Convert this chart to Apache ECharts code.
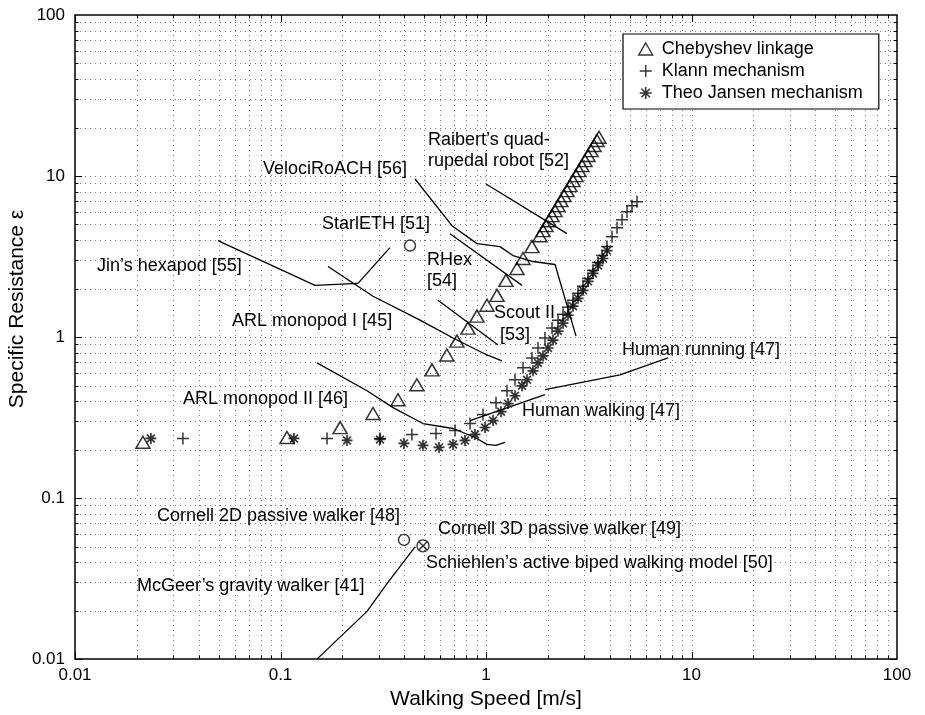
<!DOCTYPE html>
<html><head><meta charset="utf-8">
<script src="https://cdn.jsdelivr.net/npm/echarts@6/dist/echarts.min.js"></script>
<style>html,body{margin:0;padding:0;background:#fff}#c{width:925px;height:715px}</style>
</head><body><div id="c"></div>
<script>
// ---------- data ----------
const xTickLabels = ['0.01', '0.1', '1', '10', '100'];
const yTickLabels = ['0.01', '0.1', '1', '10', '100'];

const chebyshev = [[0.0214,0.222],[0.1075,0.238],[0.195,0.274],[0.282,0.335],[0.373,0.408],[0.461,0.506],
  [0.546,0.625],[0.645,0.774],[0.722,0.944],[0.817,1.137],[0.904,1.348],[1.011,1.576],[1.131,1.816],
  [1.251,2.248],[1.415,2.667],[1.514,3.075],[1.674,3.645],[1.83,4.26],[1.894,4.58],[1.959,4.92],
  [2.026,5.28],[2.096,5.68],[2.167,6.10],[2.241,6.55],[2.317,7.04],[2.397,7.56],[2.479,8.12],
  [2.563,8.72],[2.651,9.37],[2.742,10.06],[2.835,10.81],[2.932,11.61],[3.032,12.47],[3.136,13.40],
  [3.243,14.39],[3.354,15.46],[3.468,16.61],[3.547,17.41]];

const klann = [[0.0335,0.2346],[0.1684,0.2346],[0.305,0.2346],[0.436,0.2484],[0.571,0.252],[0.707,0.263],
  [0.836,0.290],[0.967,0.330],[1.119,0.391],[1.265,0.464],[1.384,0.543],[1.514,0.644],[1.674,0.742],
  [1.791,0.855],[1.937,0.986],[2.096,1.137],[2.241,1.273],[2.370,1.387],[2.506,1.532],[2.651,1.692],
  [2.804,1.869],[2.965,2.064],[3.136,2.313],[3.316,2.592],[3.508,2.904],[3.668,3.208],[3.880,3.645],
  [4.104,4.203],[4.341,4.775],[4.590,5.35],[4.855,5.99],[5.133,6.53],[5.43,6.91]];

const jansen = [[0.0234,0.2346],[0.1163,0.2346],[0.2107,0.228],[0.305,0.2313],[0.399,0.2186],[0.4936,0.2125],
  [0.5906,0.2064],[0.691,0.2154],[0.790,0.228],[0.884,0.2484],[0.989,0.2744],[1.082,0.303],[1.183,0.344],
  [1.280,0.386],[1.384,0.432],[1.497,0.498],[1.583,0.543],[1.693,0.617],[1.791,0.691],[1.894,0.763],
  [2.003,0.855],[2.118,0.958],[2.241,1.089],[2.370,1.220],[2.506,1.367],[2.651,1.554],[2.804,1.741],
  [2.965,1.950],[3.136,2.217],[3.316,2.484],[3.508,2.783],[3.709,3.075],[3.880,3.443]];

const jinHexapod = [[0.0496,3.97],[0.1472,2.094],[0.2383,2.154]];
const starlethLeader = [[0.2383,2.154],[0.341,3.594]];
const velociroach = [[0.4515,9.58],[0.683,4.914],[0.904,3.804],[1.170,3.645],[1.353,3.208],[1.693,2.945],[2.167,2.822],[2.742,1.014]];
const raibert = [[1.0,8.93],[2.479,4.385]];
const rhex = [[0.668,4.385],[1.497,2.094]];
const scoutII = [[0.584,1.692],[1.144,0.892]];
const arlMonopod1 = [[0.1703,2.744],[0.2819,1.791],[0.4775,1.273],[0.691,0.986],[1.011,0.774],[1.196,0.711]];
const arlMonopod2 = [[0.1505,0.691],[0.2636,0.464],[0.3527,0.3645],[0.4936,0.2904],[0.691,0.2704],[0.884,0.2379],[1.011,0.2154],[1.119,0.2125],[1.237,0.2217]];
const humanWalking = [[0.836,0.303],[1.937,0.4385]];
const humanRunning = [[1.937,0.471],[4.489,0.5825],[7.686,0.742]];
const mcgeer = [[0.1505,0.01],[0.2636,0.01978],[0.3298,0.02945],[0.4515,0.0498]];

const starlethPoint = [[0.4267,3.70]];
const cornell2D = [[0.399,0.055]];
const cornell3D = [[0.4936,0.0505]];

// annotation texts with anchor (data coords of left-middle of text)
const annotations = [
  ['VelociRoACH [56]', [0.0822,11.05]],
  ['Raibert\u2019s quad-\nrupedal robot [52]', [0.5222,14.47]],
  ['StarlETH [51]', [0.1592,5.055]],
  ['RHex\n[54]', [0.5163,2.592]],
  ['Jin\u2019s hexapod [55]', [0.0128,2.744]],
  ['ARL monopod I [45]', [0.0581,1.255]],
  ['Scout II', [1.094,1.406]],
  ['[53]', [1.170,1.029]],
  ['Human running [47]', [4.590,0.8315]],
  ['ARL monopod II [46]', [0.0335,0.4143]],
  ['Human walking [47]', [1.497,0.3493]],
  ['Cornell 2D passive walker [48]', [0.02506,0.0774]],
  ['Cornell 3D passive walker [49]', [0.584,0.0644]],
  ['Schiehlen\u2019s active biped walking model [50]', [0.5105,0.0397]],
  ['McGeer\u2019s gravity walker [41]', [0.02003,0.02862]]
];

// ---------- styling ----------
const FONT = 'Liberation Sans, Arial, Helvetica, sans-serif';
const PLUS = 'path://M0,6H12M6,0V12';
const STAR = 'path://M6,0V12M0,6H12M1.76,1.76L10.24,10.24M1.76,10.24L10.24,1.76';
const CIRCLE_X = 'path://M12,6A6,6,0,1,1,0,6A6,6,0,1,1,12,6ZM2.2,2.2L9.8,9.8M2.2,9.8L9.8,2.2';
const hollow = {color: 'rgba(0,0,0,0)', borderColor: '#000', borderWidth: 1.4};

const decadeBases = [0.01, 0.1, 1, 10];
function gridRender(params, api) {
  const p0 = api.coord([0.01, 0.01]);
  const p1 = api.coord([100, 100]);
  const L = p0[0], B = p0[1], R = p1[0], T = p1[1];
  const kids = [];
  const dot = {stroke: '#777', lineWidth: 1, lineDash: [1, 4]};
  const tk = {stroke: '#000', lineWidth: 1};
  decadeBases.forEach(b => {
    for (let m = 1; m <= 9; m++) {
      const v = b * m;
      const major = m === 1;
      const len = major ? 7 : 3.5;
      const x = Math.round(api.coord([v, 1])[0]) + 0.5;
      const y = Math.round(api.coord([1, v])[1]) + 0.5;
      if (!(b === 0.01 && m === 1)) {
        kids.push({type: 'line', shape: {x1: x, y1: T, x2: x, y2: B}, style: dot, silent: true});
        kids.push({type: 'line', shape: {x1: L, y1: y, x2: R, y2: y}, style: dot, silent: true});
      }
      kids.push({type: 'line', shape: {x1: x, y1: B, x2: x, y2: B - len}, style: tk, silent: true});
      kids.push({type: 'line', shape: {x1: x, y1: T, x2: x, y2: T + len}, style: tk, silent: true});
      kids.push({type: 'line', shape: {x1: L, y1: y, x2: L + len, y2: y}, style: tk, silent: true});
      kids.push({type: 'line', shape: {x1: R, y1: y, x2: R - len, y2: y}, style: tk, silent: true});
    }
  });
  return {type: 'group', children: kids};
}

function lineSeries(name, data) {
  return {name: name, type: 'line', data: data, showSymbol: false, symbol: 'none', z: 3,
    lineStyle: {color: '#000', width: 1.3}, itemStyle: {color: '#000'}, silent: true};
}

const chart = echarts.init(document.getElementById('c'), null, {renderer: 'canvas'});
chart.setOption({
  animation: false,
  backgroundColor: '#fff',
  grid: {left: 75, right: 28, top: 15, bottom: 52, show: true, borderColor: '#000', borderWidth: 1.5, backgroundColor: 'rgba(0,0,0,0)'},
  xAxis: {
    type: 'log', logBase: 10, min: 0.01, max: 100,
    name: 'Walking Speed [m/s]', nameLocation: 'middle', nameGap: 27,
    nameTextStyle: {fontSize: 21, fontFamily: FONT, color: '#000'},
    axisLine: {show: false}, axisTick: {show: false}, splitLine: {show: false},
    axisLabel: {fontSize: 17, fontFamily: FONT, color: '#000', margin: 8,
      formatter: v => xTickLabels[Math.round(Math.log10(v)) + 2]}
  },
  yAxis: {
    type: 'log', logBase: 10, min: 0.01, max: 100,
    axisLine: {show: false}, axisTick: {show: false}, splitLine: {show: false},
    axisLabel: {fontSize: 17, fontFamily: FONT, color: '#000', margin: 10,
      formatter: v => yTickLabels[Math.round(Math.log10(v)) + 2]}
  },
  graphic: [{
    type: 'text', x: 17, y: 309, rotation: Math.PI / 2,
    style: {text: 'Specific Resistance \u03b5', fontSize: 21, fontFamily: FONT, fill: '#000', align: 'center', verticalAlign: 'middle'}
  }],
  legend: {
    orient: 'vertical', left: 623, top: 34, padding: [5, 16, 6, 15],
    itemWidth: 14, itemHeight: 12, itemGap: 2,
    backgroundColor: '#fff', borderColor: '#000', borderWidth: 1.2, borderRadius: 0,
    textStyle: {fontSize: 18, fontFamily: FONT, color: '#000', lineHeight: 20, padding: [0, 0, 0, 4]},
    selectedMode: false,
    data: [
      {name: 'Chebyshev linkage', icon: 'triangle', itemStyle: hollow},
      {name: 'Klann mechanism', icon: PLUS, itemStyle: hollow},
      {name: 'Theo Jansen mechanism', icon: STAR, itemStyle: {color: 'rgba(0,0,0,0)', borderColor: '#000', borderWidth: 1.6}}
    ]
  },
  series: [
    {type: 'custom', renderItem: gridRender, data: [0], z: 1, silent: true},
    lineSeries('jin', jinHexapod),
    lineSeries('starlethLeader', starlethLeader),
    lineSeries('velociroach', velociroach),
    lineSeries('raibert', raibert),
    lineSeries('rhex', rhex),
    lineSeries('scout', scoutII),
    lineSeries('arl1', arlMonopod1),
    lineSeries('arl2', arlMonopod2),
    lineSeries('humanWalking', humanWalking),
    lineSeries('humanRunning', humanRunning),
    lineSeries('mcgeer', mcgeer),
    {name: 'Chebyshev linkage', type: 'scatter', data: chebyshev, symbol: 'triangle', symbolSize: [14, 12], itemStyle: {color: 'rgba(0,0,0,0)', borderColor: '#000', borderWidth: 1.5}, z: 4, silent: true},
    {name: 'Klann mechanism', type: 'scatter', data: klann, symbol: PLUS, symbolSize: 12, itemStyle: {color: 'rgba(0,0,0,0)', borderColor: '#000', borderWidth: 1.5}, z: 4, silent: true},
    {name: 'Theo Jansen mechanism', type: 'scatter', data: jansen, symbol: STAR, symbolSize: 11, itemStyle: {color: 'rgba(0,0,0,0)', borderColor: '#000', borderWidth: 1.7}, z: 4, silent: true},
    {name: 'points', type: 'scatter', data: starlethPoint.concat(cornell2D), symbol: 'circle', symbolSize: 11, itemStyle: hollow, z: 4, silent: true},
    {name: 'points3d', type: 'scatter', data: cornell3D, symbol: CIRCLE_X, symbolSize: 12, itemStyle: hollow, z: 4, silent: true},
    {name: 'annotations', type: 'scatter', symbol: 'circle', symbolSize: 0, z: 5, silent: true,
      itemStyle: {color: '#000'},
      data: annotations.map(a => ({value: a[1], label: {formatter: a[0]}})),
      label: {show: true, position: 'right', distance: 0, fontSize: 18, fontFamily: FONT, color: '#000',
        opacity: 1, textBorderWidth: 0, lineHeight: 21, align: 'left', verticalAlign: 'middle'}
    }
  ]
});
</script>
</body></html>
